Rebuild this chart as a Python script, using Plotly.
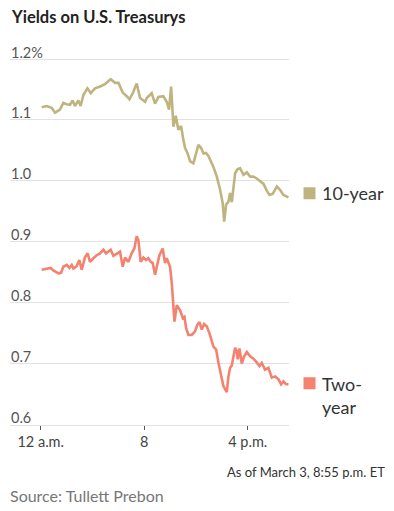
import plotly.graph_objects as go

# hours after midnight, March 3
ten_hours = [0.08, 0.46, 0.85, 1.11, 1.49, 1.75, 2.01, 2.27, 2.47, 2.65, 2.91, 3.09, 3.30, 3.61, 3.87,
             4.20, 4.59, 4.97, 5.41, 5.75, 6.01, 6.34, 6.65, 6.86, 7.16, 7.42, 7.68, 8.07, 8.20, 8.58,
             8.84, 9.10, 9.48, 9.74, 9.92, 10.08, 10.26, 10.44, 10.64, 10.85, 11.03, 11.16, 11.34, 11.55,
             11.80, 12.06, 12.19, 12.40, 12.58, 12.78, 12.96, 13.35, 13.61, 13.87, 14.07, 14.18, 14.33,
             14.51, 14.64, 14.77, 14.90, 15.03, 15.21, 15.41, 15.67, 15.93, 16.19, 16.44, 16.70, 16.96,
             17.22, 17.47, 17.68, 17.94, 18.25, 18.51, 18.76, 19.15]
ten_year = [1.121, 1.123, 1.120, 1.112, 1.117, 1.128, 1.126, 1.125, 1.132, 1.123, 1.132, 1.123, 1.141,
            1.152, 1.144, 1.152, 1.155, 1.159, 1.167, 1.161, 1.161, 1.145, 1.139, 1.134, 1.146, 1.160,
            1.136, 1.130, 1.136, 1.144, 1.127, 1.138, 1.139, 1.130, 1.117, 1.155, 1.089, 1.107, 1.084,
            1.090, 1.067, 1.054, 1.046, 1.032, 1.029, 1.048, 1.059, 1.054, 1.045, 1.046, 1.041, 1.023,
            1.007, 0.985, 0.963, 0.933, 0.961, 0.966, 0.980, 0.965, 0.985, 1.013, 1.019, 1.021, 1.010,
            1.014, 1.007, 1.007, 1.004, 0.999, 0.995, 0.984, 0.977, 0.979, 0.991, 0.985, 0.977, 0.973]

two_hours = [0.08, 0.46, 0.77, 0.98, 1.37, 1.57, 1.75, 2.01, 2.22, 2.40, 2.53, 2.78, 2.99, 3.17, 3.43,
             3.63, 3.81, 4.07, 4.33, 4.59, 4.85, 5.05, 5.23, 5.41, 5.62, 5.93, 6.13, 6.34, 6.52, 6.78,
             7.03, 7.24, 7.42, 7.55, 7.73, 7.94, 8.14, 8.32, 8.51, 8.66, 8.84, 8.97, 9.18, 9.43, 9.61,
             9.74, 9.87, 10.00, 10.13, 10.26, 10.34, 10.52, 10.77, 10.98, 11.11, 11.24, 11.42, 11.68,
             11.93, 12.11, 12.27, 12.45, 12.63, 12.84, 13.04, 13.35, 13.56, 13.74, 13.92, 14.12, 14.38,
             14.51, 14.64, 14.77, 14.90, 15.03, 15.15, 15.23, 15.36, 15.54, 15.72, 15.93, 16.19, 16.44,
             16.70, 16.91, 17.09, 17.34, 17.60, 17.86, 18.12, 18.38, 18.58, 18.76, 18.97, 19.15]
two_year = [0.854, 0.856, 0.857, 0.853, 0.848, 0.849, 0.859, 0.862, 0.857, 0.862, 0.856, 0.860, 0.870,
            0.854, 0.875, 0.881, 0.867, 0.873, 0.878, 0.881, 0.887, 0.881, 0.884, 0.887, 0.877, 0.881,
            0.884, 0.859, 0.874, 0.867, 0.881, 0.889, 0.909, 0.903, 0.867, 0.874, 0.870, 0.873, 0.867,
            0.865, 0.846, 0.859, 0.878, 0.889, 0.865, 0.873, 0.867, 0.859, 0.832, 0.799, 0.769, 0.796,
            0.788, 0.775, 0.777, 0.758, 0.747, 0.747, 0.753, 0.764, 0.768, 0.756, 0.765, 0.761, 0.750,
            0.728, 0.723, 0.701, 0.682, 0.663, 0.653, 0.679, 0.693, 0.697, 0.712, 0.726, 0.720, 0.707,
            0.725, 0.700, 0.712, 0.719, 0.712, 0.708, 0.702, 0.696, 0.701, 0.690, 0.693, 0.677, 0.679,
            0.674, 0.666, 0.671, 0.666, 0.666]

x_tickvals = [0, 8, 16]
x_ticktext = ["12 a.m.", "8", "4 p.m."]
y_tickvals = [0.6, 0.7, 0.8, 0.9, 1.0, 1.1, 1.2]
y_ticktext = ["0.6", "0.7", "0.8", "0.9", "1.0", "1.1", "1.2%"]

series_names = ["10-year", "Two-<br>year"]
colors = ["#bfb47f", "#f5816f"]

W, H = 394, 511
FONT = "Lato, Open Sans, sans-serif"

fig = go.Figure()
fig.add_trace(go.Scatter(x=ten_hours, y=ten_year, mode="lines",
                         line=dict(color=colors[0], width=2.6), hoverinfo="skip"))
fig.add_trace(go.Scatter(x=two_hours, y=two_year, mode="lines",
                         line=dict(color=colors[1], width=2.6), hoverinfo="skip"))

x0px, x1px = 10, 289
bot_px = 424.5
px_per_unit = 609.0
y_top = 1.235
top_px = bot_px - (y_top - 0.6) * px_per_unit

fig.update_layout(
    width=W, height=H, margin=dict(l=0, r=0, t=0, b=0),
    paper_bgcolor="white", plot_bgcolor="white", showlegend=False,
    xaxis=dict(domain=[x0px / W, x1px / W], range=[-2.37, 19.19],
               tickvals=x_tickvals, ticktext=x_ticktext, showgrid=False, zeroline=False,
               showline=True, linecolor="#e2e2e2", linewidth=1,
               ticks="outside", ticklen=4, tickcolor="#555", tickwidth=1,
               tickfont=dict(family=FONT, size=14.5, color="#444")),
    yaxis=dict(domain=[(H - bot_px) / H, (H - top_px) / H], range=[0.6, y_top],
               tickvals=y_tickvals, showgrid=True, gridcolor="#e2e2e2",
               gridwidth=1, zeroline=False, ticks="", showticklabels=False),
)

# y tick labels sit above their gridlines at the left edge
for v, t in zip(y_tickvals, y_ticktext):
    fig.add_annotation(xref="paper", yref="y", x=9 / W, y=v, xanchor="left", yanchor="middle",
                       yshift=7, text=t, showarrow=False,
                       font=dict(family=FONT, size=14.5, color="#555"))

last_vals = [ten_year[-1], two_year[-1]]
sq_x = 309.5 / W
shifts = [4, 1]
for name, col, v, s in zip(series_names, colors, last_vals, shifts):
    fig.add_shape(type="rect", xref="paper", yref="y", xsizemode="pixel", ysizemode="pixel",
                  xanchor=sq_x, yanchor=v, x0=-6, x1=6, y0=-6 + s, y1=6 + s,
                  fillcolor=col, line=dict(width=0))
    fig.add_annotation(xref="paper", yref="y", x=320 / W, y=v, xanchor="left",
                       yanchor="top" if "<br>" in name else "middle",
                       yshift=(s + 12) if "<br>" in name else s,
                       text=name, showarrow=False, align="left",
                       font=dict(family=FONT, size=18, color="#333"))

fig.add_annotation(xref="paper", yref="paper", x=9 / W, y=1 - 17 / H, xanchor="left", yanchor="middle",
                   text="<b>Yields on U.S. Treasurys</b>", showarrow=False,
                   font=dict(family=FONT, size=16.5, color="#222"))
fig.add_annotation(xref="paper", yref="paper", x=387 / W, y=1 - 472 / H, xanchor="right", yanchor="middle",
                   text="As of March 3, 8:55 p.m. ET", showarrow=False,
                   font=dict(family=FONT, size=13, color="#333"))
fig.add_annotation(xref="paper", yref="paper", x=8 / W, y=1 - 495 / H, xanchor="left", yanchor="middle",
                   text="Source: Tullett Prebon", showarrow=False,
                   font=dict(family=FONT, size=16, color="#777"))

fig.write_html("out.html", config={"displayModeBar": False, "staticPlot": True},
               post_script="document.body.style.margin='0';document.body.style.overflow='hidden';")
